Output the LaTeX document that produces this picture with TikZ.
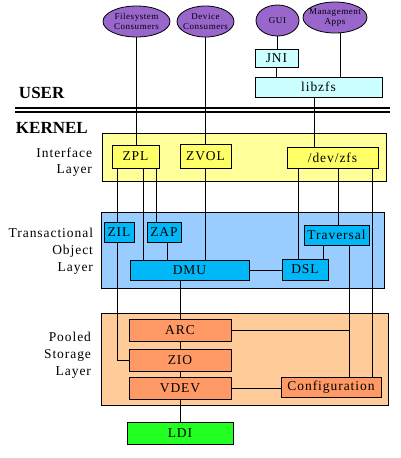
\documentclass[tikz,border=0pt]{standalone}
\usepackage{fontspec}
\setmainfont{Liberation Serif}
\newfontfamily\spacedfont[LetterSpace=7]{Liberation Serif}
\newfontfamily\smallspaced[LetterSpace=6]{Liberation Serif}
\usetikzlibrary{shapes.geometric,calc}
\definecolor{purp}{HTML}{9966CC}
\definecolor{lcyan}{HTML}{CCFFFF}
\definecolor{ylayer}{HTML}{FFFF99}
\definecolor{ybox}{HTML}{FFFF66}
\definecolor{blayer}{HTML}{99CCFF}
\definecolor{bbox}{HTML}{00B8F8}
\definecolor{olayer}{HTML}{FFCC99}
\definecolor{obox}{HTML}{FF9966}
\definecolor{gbox}{HTML}{22FF22}
\begin{document}
\begin{tikzpicture}[x=1pt,y=-1pt,
  every node/.style={inner sep=0pt,outer sep=0pt},
  consumer/.style={ellipse,draw=black,fill=purp,line width=0.8pt},
  cfont/.style={align=center,font=\smallspaced\fontsize{9}{10.5}\selectfont},
  boxfont/.style={font=\spacedfont\fontsize{13.5}{15}\selectfont},
  userbox/.style={draw=black,fill=lcyan,line width=0.8pt,boxfont},
  layer/.style={draw=black,line width=1pt},
  ibox/.style={draw=black,fill=ybox,line width=0.8pt,boxfont},
  tbox/.style={draw=black,fill=bbox,line width=0.8pt,boxfont},
  pbox/.style={draw=black,fill=obox,line width=0.8pt,boxfont},
  lbox/.style={draw=black,fill=gbox,line width=0.8pt,boxfont},
  laylabel/.style={anchor=east,boxfont},
  biglabel/.style={anchor=west,font=\bfseries\fontsize{17}{19}\selectfont},
  conn/.style={draw=black,line width=0.8pt}]
\useasboundingbox (0,0) rectangle (401,458);
\fill[white] (0,0) rectangle (401,458);

% ellipses
\node[consumer,minimum width=67pt,minimum height=31pt,label={[cfont]center:Filesystem\\Consumers}] (fsc) at (136.5,21.5) {};
\node[consumer,minimum width=57pt,minimum height=31pt,label={[cfont]center:Device\\Consumers}] (dc) at (205.5,21.5) {};
\node[consumer,minimum width=43pt,minimum height=31pt,label={[cfont]center:GUI}] (gui) at (277.5,20.5) {};
\node[consumer,minimum width=64pt,minimum height=31pt,label={[cfont]center:Management\\Apps}] (mgmt) at (335,17.5) {};

% user boxes
\node[userbox,minimum width=43pt,minimum height=18pt] (jni) at (276.5,58) {JNI};
\node[userbox,minimum width=127pt,minimum height=20pt] (libzfs) at (318.5,87) {libzfs};

% USER / KERNEL
\node[biglabel] (user) at (19,93) {USER};
\node[biglabel] (kernel) at (16,128) {KERNEL};
\draw[line width=2pt] (15,108) coordinate (dl1a) -- (390,108) coordinate (dl1b);
\draw[line width=2pt] (15,112) coordinate (dl2a) -- (390,112) coordinate (dl2b);

% layers
\node[layer,fill=ylayer,minimum width=284pt,minimum height=48pt] (iface) at (244,157) {};
\node[layer,fill=blayer,minimum width=283pt,minimum height=76pt] (tol) at (242.5,250) {};
\node[layer,fill=olayer,minimum width=287pt,minimum height=92pt] (psl) at (244.5,359) {};

% layer labels
\node[laylabel] (il1) at (92,153) {Interface};
\node[laylabel] (il2) at (92,171) {Layer};
\node[laylabel] (tl1) at (93,233) {Transactional};
\node[laylabel] (tl2) at (93,251) {Object};
\node[laylabel] (tl3) at (93,269) {Layer};
\node[laylabel] (pl1) at (91,337) {Pooled};
\node[laylabel] (pl2) at (91,355) {Storage};
\node[laylabel] (pl3) at (91,373) {Layer};

% interface boxes
\node[ibox,minimum width=47pt,minimum height=23pt] (zpl) at (135.5,156.5) {ZPL};
\node[ibox,minimum width=51pt,minimum height=24pt] (zvol) at (205.5,156) {ZVOL};
\node[ibox,minimum width=91pt,minimum height=21pt] (devzfs) at (332.5,157.5) {/dev/zfs};

% transactional boxes
\node[tbox,minimum width=30pt,minimum height=20pt] (zil) at (119,232) {ZIL};
\node[tbox,minimum width=34pt,minimum height=20pt] (zap) at (164,232) {ZAP};
\node[tbox,minimum width=65pt,minimum height=20pt] (trav) at (336.5,235) {Traversal};
\node[tbox,minimum width=119pt,minimum height=20pt] (dmu) at (189.5,270) {DMU};
\node[tbox,minimum width=46pt,minimum height=21pt] (dsl) at (305,269.5) {DSL};

% pooled boxes
\node[pbox,minimum width=102pt,minimum height=22pt] (arc) at (180,330) {ARC};
\node[pbox,minimum width=102pt,minimum height=22pt] (zio) at (180,360) {ZIO};
\node[pbox,minimum width=102pt,minimum height=22pt] (vdev) at (180,388) {VDEV};
\node[pbox,minimum width=100pt,minimum height=20pt] (config) at (331,387) {Configuration};
\node[lbox,minimum width=106pt,minimum height=22pt] (ldi) at (180,433) {LDI};

% user-level connectors
\draw[conn] (fsc.south) -- (fsc.south |- zpl.north);
\draw[conn] (dc.south) -- (dc.south |- zvol.north);
\draw[conn] (gui.south) -- (gui.south |- jni.north);
\draw[conn] (jni.south) -- (jni.south |- libzfs.north);
\draw[conn] ([xshift=5pt]mgmt.south) coordinate (m1) -- (m1 |- libzfs.north);
\draw[conn] ([xshift=-4.5pt]libzfs.south) coordinate (l1) -- (l1 |- devzfs.north);

% ZPL connectors
\draw[conn] ([xshift=-18.5pt]zpl.south) coordinate (z1) -- (z1 |- zil.north);
\draw[conn] (zil.south -| z1) -- (z1 |- zio.west) -- (zio.west);
\draw[conn] ([xshift=7.5pt]zpl.south) coordinate (z2) -- (z2 |- dmu.north);
\draw[conn] ([xshift=20.5pt]zpl.south) coordinate (z3) -- (z3 |- zap.north);
\draw[conn] ([xshift=3pt]zap.south) coordinate (za1) -- (za1 |- dmu.north);
\draw[conn] (zvol.south) -- (zvol.south |- dmu.north);

% /dev/zfs connectors
\draw[conn] ([xshift=-34.5pt]devzfs.south) coordinate (d1) -- (d1 |- dsl.north);
\draw[conn] ([xshift=5.5pt]devzfs.south) coordinate (d2) -- (d2 |- trav.north);
\draw[conn] ([xshift=39.5pt]devzfs.south) coordinate (d3) -- (d3 |- config.north);

% traversal connectors
\draw[conn] ([xshift=-13.5pt]trav.south) coordinate (t1) -- (t1 |- dsl.north);
\draw[conn] ([xshift=12.5pt]trav.south) coordinate (t2) -- (t2 |- config.north);
\draw[conn] (dmu.east) -- (dsl.west |- dmu.east);

% pooled connectors
\draw[conn] ([xshift=-9.5pt]dmu.south) coordinate (dm1) -- (dm1 |- arc.north);
\draw[conn] (arc.south) -- (zio.north);
\draw[conn] (zio.south) -- (vdev.north);
\draw[conn] (vdev.south) -- (ldi.north);
\draw[conn] (arc.east) -- (arc.east -| t2);
\draw[conn] (vdev.east) -- (config.west |- vdev.east);
\end{tikzpicture}
\end{document}
